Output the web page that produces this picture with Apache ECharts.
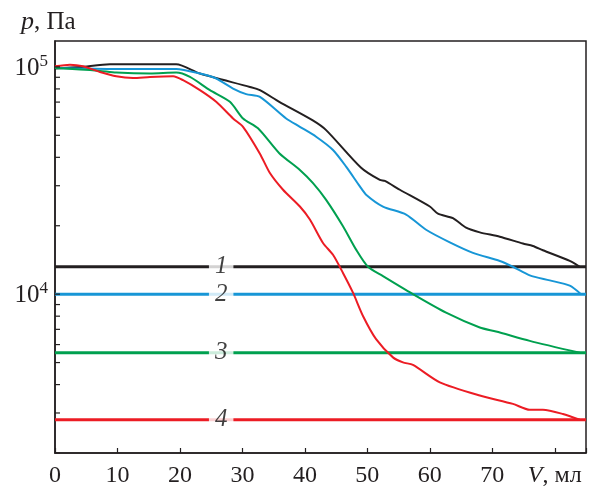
<!DOCTYPE html>
<html>
<head>
<meta charset="utf-8">
<script src="https://cdn.jsdelivr.net/npm/echarts@6/dist/echarts.min.js"></script>
<style>
html,body{margin:0;padding:0;background:#fff;}
#chart{width:592px;height:489px;}
</style>
</head>
<body>
<div id="chart"></div>
<script>
// ---- data ----
const xTicks = [0, 10, 20, 30, 40, 50, 60, 70, 80];
const yMajorTicks = [10000, 100000];
const yMinorTicks = [2000, 3000, 4000, 5000, 6000, 7000, 8000, 9000,
  20000, 30000, 40000, 50000, 60000, 70000, 80000, 90000];

const v1 = [0, 4, 8.8, 19.4, 23.2, 31.2, 32.8, 35.9, 41.2, 43.4, 49, 52.0, 52.8, 55.2, 60.0, 61.3, 63.7, 65.8, 68.0, 71.2, 74.9, 76.5, 78.1, 82.4, 84.0];
const p1 = [98500, 99800, 102600, 102600, 93500, 81600, 79000, 70200, 58300, 52700, 36000, 31800, 31500, 28800, 24300, 22600, 21600, 19600, 18700, 17900, 16700, 16300, 15600, 14000, 13200];

const v2 = [0, 10, 19.4, 23.2, 25.8, 28.5, 30.6, 32.8, 37.0, 39.2, 41.8, 44.5, 46.6, 48.8, 49.8, 52.5, 56.2, 59.4, 63.2, 66.9, 71.2, 73.3, 76.0, 79.2, 82.4, 84.2];
const p2 = [99000, 98000, 98000, 93500, 88900, 80300, 75900, 73800, 59300, 54500, 49300, 43100, 36400, 29800, 27400, 24300, 22400, 19200, 16900, 15200, 14000, 13200, 12100, 11500, 10900, 10000];

const v3 = [0, 4, 7.2, 9.8, 15.2, 19.4, 21.6, 24.8, 28.0, 30.1, 32.5, 35.9, 39.2, 41.3, 43.4, 46.1, 48.2, 50.1, 52.5, 57.3, 62.6, 68.0, 70.6, 76.0, 84.0];
const p3 = [99000, 97500, 96000, 94400, 93500, 94400, 90300, 79000, 70200, 59300, 53700, 41700, 35200, 30800, 26000, 19900, 15700, 13200, 12000, 10000, 8290, 7130, 6850, 6230, 5520];

const v4 = [0, 2.4, 4.5, 7.2, 9.8, 12.5, 15.2, 18.9, 20.5, 23.2, 25.8, 28.5, 30.1, 32.8, 34.4, 36.5, 39.2, 40.8, 42.9, 44.5, 46.1, 47.7, 49.3, 51.4, 54.1, 55.7, 57.3, 61.6, 68.0, 73.3, 76.0, 78.1, 81.3, 84.0];
const p4 = [100600, 102300, 100600, 95000, 90900, 89400, 90300, 90900, 87400, 79000, 70200, 59300, 54500, 41500, 34100, 28800, 24300, 21300, 16800, 14900, 12400, 10150, 8020, 6340, 5270, 5010, 4880, 4090, 3580, 3290, 3100, 3100, 2970, 2800];

const levelNames = ['1', '2', '3', '4'];
const levelValues = [13200, 10000, 5520, 2800];
const levelLabelX = 26.6;
const xStart = 0, xEnd = 85;

const colors = ['#231f20', '#1796d6', '#00a04f', '#ec1c24'];
const FONT = 'Liberation Serif';
const INK = '#231f20';

const zip = (a, b) => a.map((x, i) => [x, b[i]]);
const curves = [zip(v1, p1), zip(v2, p2), zip(v3, p3), zip(v4, p4)];

const series = [];
levelValues.forEach((lv, i) => {
  series.push({
    type: 'line', data: [[xStart, lv], [xEnd, lv]], symbol: 'none',
    lineStyle: { color: colors[i], width: 3 }, z: 2, silent: true
  });
});
curves.forEach((d, i) => {
  series.push({
    type: 'line', data: d, symbol: 'none', smooth: 0.25,
    lineStyle: { color: colors[i], width: 2 }, z: 3, silent: true
  });
});
series.push({
  type: 'scatter', symbolSize: 0, z: 5, silent: true,
  data: levelValues.map((lv, i) => ({ value: [levelLabelX, lv], name: levelNames[i] })),
  label: {
    show: true, position: 'inside', formatter: p => p.name,
    fontFamily: FONT, fontStyle: 'italic', fontSize: 25, color: '#111',
    backgroundColor: '#fff', padding: [2, 6, 0, 6]
  }
});
const tickData = yMinorTicks.concat(yMajorTicks).map(v => [xStart, v]);
series.push({
  type: 'custom', silent: true, z: 6, clip: false,
  data: tickData,
  renderItem: (params, api) => {
    const p = api.coord([api.value(0), api.value(1)]);
    return { type: 'line', shape: { x1: p[0], y1: p[1], x2: p[0] + 5, y2: p[1] },
      style: { stroke: INK, lineWidth: 1.2 } };
  }
});

const chart = echarts.init(document.getElementById('chart'), null, { renderer: 'canvas' });
chart.setOption({
  animation: false,
  backgroundColor: '#fff',
  grid: { left: 55, right: 6, top: 41, bottom: 36, show: true, borderColor: INK, borderWidth: 1.5, backgroundColor: 'transparent' },
  xAxis: {
    type: 'value', min: xStart, max: xEnd, interval: 10,
    axisLine: { show: true, lineStyle: { color: INK, width: 1.5 } },
    axisTick: { show: true, inside: true, length: 5, lineStyle: { color: INK, width: 1.2 } },
    splitLine: { show: false },
    axisLabel: {
      margin: 11, color: INK, fontFamily: FONT, fontSize: 24,
      formatter: v => {
        if (xTicks.indexOf(v) < 0) return '';
        if (v === 80) return '{i|V}, мл';
        return String(v);
      },
      rich: { i: { fontFamily: FONT, fontStyle: 'italic', fontSize: 24, color: INK } }
    }
  },
  yAxis: {
    type: 'log', logBase: 10, min: 2000, max: 130000,
    axisLine: { show: true, lineStyle: { color: INK, width: 1.5 } },
    axisTick: { show: false },
    splitLine: { show: false },
    minorTick: { show: false },
    axisLabel: {
      margin: 7, color: INK, fontFamily: FONT, fontSize: 24,
      formatter: v => {
        const e = Math.log10(v);
        if (Math.abs(e - Math.round(e)) < 1e-6 && (Math.round(e) === 4 || Math.round(e) === 5)) {
          return '{b|10}{s|' + Math.round(e) + '}';
        }
        return '';
      },
      rich: {
        b: { fontFamily: FONT, fontSize: 25, color: INK, lineHeight: 28, verticalAlign: 'bottom' },
        s: { fontFamily: FONT, fontSize: 17, color: INK, lineHeight: 28, verticalAlign: 'top' }
      }
    }
  },
  graphic: [{
    type: 'text', left: 21, top: 9,
    style: {
      text: '{i|p}, Па', fill: INK,
      font: '25px "Liberation Serif"',
      rich: { i: { fontFamily: FONT, fontStyle: 'italic', fontSize: 26, fill: INK } }
    }
  }],
  series: series
});
</script>
</body>
</html>
